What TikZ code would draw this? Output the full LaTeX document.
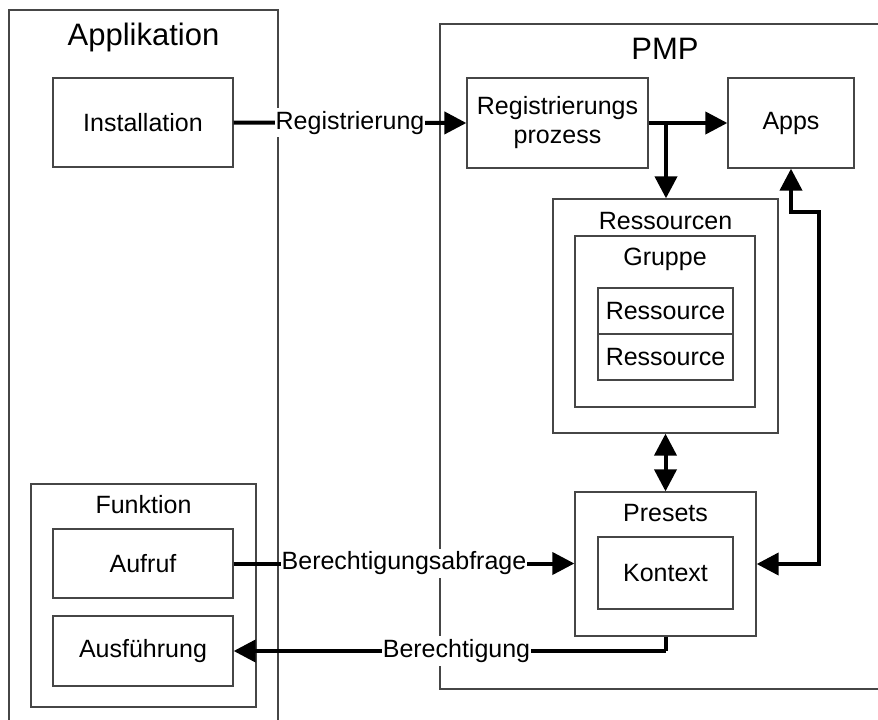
\documentclass[tikz,border=0pt]{standalone}
\usepackage{fontspec}
\setmainfont{Liberation Sans}
\usetikzlibrary{arrows.meta}
\definecolor{framegray}{RGB}{70,70,70}
\begin{document}
\begin{tikzpicture}[x=1pt,y=-1pt,
  box/.style={draw=framegray,line width=1.3pt,fill=white,rectangle,inner sep=0pt,
    font=\fontsize{25}{29}\selectfont,align=center},
  title/.style={inner sep=0pt,anchor=base,font=\fontsize{25}{29}\selectfont},
  bigtitle/.style={inner sep=0pt,anchor=base,font=\fontsize{31}{36}\selectfont},
  lbl/.style={fill=white,inner xsep=1pt,inner ysep=3pt,font=\fontsize{25}{29}\selectfont},
  conn/.style={line width=4pt,line join=miter,-{Triangle[length=22pt,width=22pt]}},
  bconn/.style={line width=4pt,line join=miter,{Triangle[length=22pt,width=22pt]}-{Triangle[length=22pt,width=22pt]}},
  plain/.style={line width=4pt,line join=miter}]
\useasboundingbox (0,0) rectangle (878,720);

% outer frames
\node[box,minimum width=269,minimum height=720] (app) at (143.5,370) {};
\node[bigtitle] (apptitle) at (143.5,45) {Applikation};
\node[box,minimum width=450,minimum height=665] (pmp) at (665,356.5) {};
\node[bigtitle] (pmptitle) at (665,59) {PMP};

% Applikation side
\node[box,minimum width=180,minimum height=89] (inst) at (143,122.5) {Installation};
\node[box,minimum width=225,minimum height=223] (fun) at (143.5,595.5) {};
\node[title] (funtitle) at (143.5,513) {Funktion};
\node[box,minimum width=180,minimum height=69] (auf) at (143,563.5) {Aufruf};
\node[box,minimum width=180,minimum height=70] (aus) at (143,651) {Ausführung};

% PMP side
\node[box,minimum width=181,minimum height=90] (reg) at (557.5,123) {Registrierungs\\prozess};
\node[box,minimum width=126,minimum height=90] (apps) at (791,123) {Apps};
\node[box,minimum width=225,minimum height=234] (res) at (665.5,316) {};
\node[title] (restitle) at (665.5,229) {Ressourcen};
\node[box,minimum width=180,minimum height=171] (grp) at (665,321.5) {};
\node[title] (grptitle) at (665,265) {Gruppe};
\node[box,minimum width=135,minimum height=46] (r1) at (665.5,311) {Ressource};
\node[box,minimum width=135,minimum height=46] (r2) at (665.5,357) {Ressource};
\node[box,minimum width=181,minimum height=144] (pre) at (665.5,564) {};
\node[title] (pretitle) at (665.5,521) {Presets};
\node[box,minimum width=135,minimum height=72] (ktx) at (665.5,573) {Kontext};

% connectors
\draw[conn] (inst.east) -- node[lbl] (lreg) {Registrierung} (reg.west);
\draw[conn] (reg.east) -- (apps.west);
\coordinate (split) at (666,123);
\draw[conn] (split) -- (split |- res.north);
\draw[bconn] (res.south) -- (pre.north);
\coordinate (b1) at (791,212);
\coordinate (b2) at (819,212);
\draw[bconn] (apps.south) -- (b1) -- (b2) -- (b2 |- pre.east) -- (pre.east);
\draw[conn] (auf.east) -- node[lbl] (lberab) {Berechtigungsabfrage} (auf.east -| pre.west);
\coordinate (down) at (665.5,651);
\draw[plain] (pre.south) -- (down);
\draw[conn] (down) -- (aus.east);
\node[lbl] (lber) at (456.5,651) {Berechtigung};
\end{tikzpicture}
\end{document}
